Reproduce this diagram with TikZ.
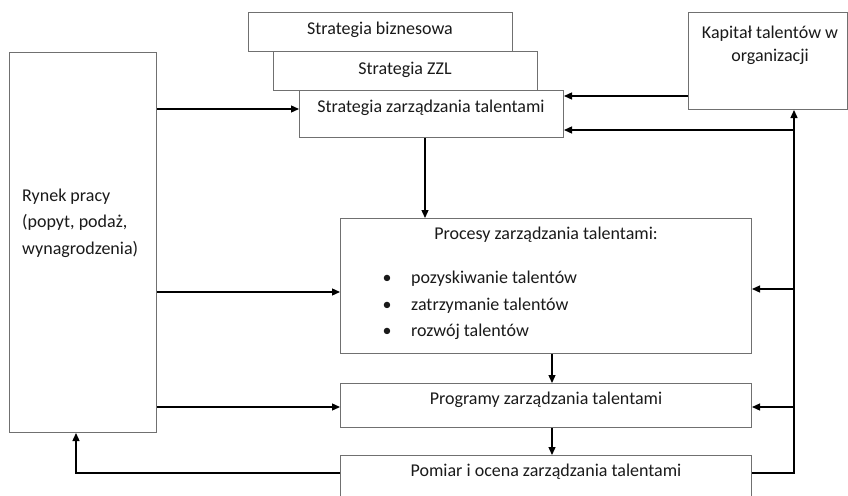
\documentclass[tikz,border=0pt]{standalone}
\usepackage{fontspec}
\setmainfont{Carlito}
\usetikzlibrary{arrows.meta}
\definecolor{boxgray}{HTML}{707070}
\definecolor{txtc}{HTML}{1A1A1A}
\begin{document}
\begin{tikzpicture}[x=1pt,y=-1pt,
  box/.style={draw=boxgray, line width=1pt, fill=white, anchor=north west, inner sep=0pt},
  txt/.style={font=\fontsize{18}{21}\selectfont, text=txtc, inner sep=0pt},
  arr/.style={-{Triangle[length=8pt,width=7pt]}, line width=1.3pt},
  ln/.style={line width=1.3pt}]
\useasboundingbox (0,0) rectangle (848,495);
% boxes
\node[box, minimum width=264pt, minimum height=39pt] (sb) at (248,12) {};
\node[box, minimum width=264pt, minimum height=39pt] (zzl) at (273,51) {};
\node[box, minimum width=264pt, minimum height=47pt] (stz) at (299,90) {};
\node[box, minimum width=159pt, minimum height=97pt] (kap) at (688,12) {};
\node[box, minimum width=147pt, minimum height=380pt] (ryn) at (9,52) {};
\node[box, minimum width=411pt, minimum height=135pt] (proc) at (340,218) {};
\node[box, minimum width=411pt, minimum height=44pt] (prog) at (340,383) {};
\node[box, minimum width=411pt, minimum height=60pt] (pom) at (340,455) {};
% texts
\node[txt] (tsb) at (380,30) {Strategia biznesowa};
\node[txt] (tzzl) at (405,70) {Strategia ZZL};
\node[txt] (tstz) at (431,108) {Strategia zarządzania talentami};
\node[txt, align=center, font=\fontsize{18}{23}\selectfont] (tkap) at (770,45) {Kapitał talentów w\\organizacji};
\node[txt, align=left, anchor=west, font=\fontsize{18}{26.5}\selectfont] (tryn) at (22,223) {Rynek pracy\\(popyt, podaż,\\wynagrodzenia)};
\node[txt] (tproc) at (546,235) {Procesy zarządzania talentami:};
\node[txt] (b1) at (387,279) {•};
\node[txt] (b2) at (387,306) {•};
\node[txt] (b3) at (387,332) {•};
\node[txt, anchor=west] (p1) at (411,279) {pozyskiwanie talentów};
\node[txt, anchor=west] (p2) at (411,306) {zatrzymanie talentów};
\node[txt, anchor=west] (p3) at (411,332) {rozwój talentów};
\node[txt] (tprog) at (546,400) {Programy zarządzania talentami};
\node[txt] (tpom) at (546,472) {Pomiar i ocena zarządzania talentami};
% helper coordinates
\coordinate (y109) at (0,109);
\coordinate (y96) at (0,96);
\coordinate (y130) at (0,130);
\coordinate (y289) at (0,289);
\coordinate (y292) at (0,292);
\coordinate (y407) at (0,407);
\coordinate (y473) at (0,473);
\coordinate (vx) at (794,0);
\coordinate (lx) at (76,0);
\coordinate (dx) at (425,0);
\coordinate (mx) at (552,0);
% connectors from labour market
\draw[arr] (ryn.east |- y109) -- (stz.west |- y109);
\draw[arr] (ryn.east |- y292) -- (proc.west |- y292);
\draw[arr] (ryn.east |- y407) -- (prog.west |- y407);
% vertical flow
\draw[arr] (dx |- stz.south) -- (dx |- proc.north);
\draw[arr] (mx |- proc.south) -- (mx |- prog.north);
\draw[arr] (mx |- prog.south) -- (mx |- pom.north);
% feedback from measurement
\draw[arr] (pom.west |- y473) -| (lx |- ryn.south);
\draw[arr] (pom.east |- y473) -| (vx |- kap.south);
\draw[arr] (vx |- y130) -- (stz.east |- y130);
\draw[arr] (vx |- y289) -- (proc.east |- y289);
\draw[arr] (vx |- y407) -- (prog.east |- y407);
\draw[arr] (kap.west |- y96) -- (stz.east |- y96);
\end{tikzpicture}
\end{document}
